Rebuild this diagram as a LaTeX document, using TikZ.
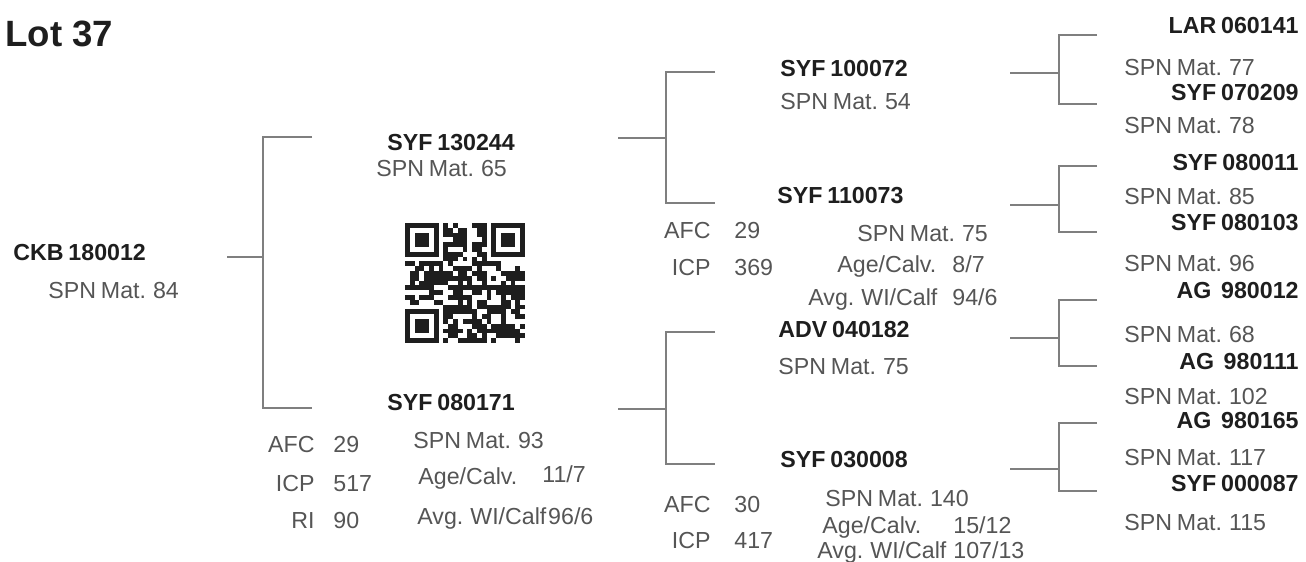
\documentclass[tikz,border=0pt]{standalone}
\usepackage{fontspec}
\setmainfont[WordSpace=0.75]{Liberation Sans}
\newfontfamily\lotfont{Liberation Sans}
\usetikzlibrary{positioning}

\definecolor{namecol}{HTML}{1E1E1E}
\definecolor{infocol}{HTML}{555555}
\definecolor{linkcol}{HTML}{7F7F7F}

\begin{document}
\begin{tikzpicture}[
% first : the style of the pedigree
    x=0.5pt, y=-0.5pt,
    title/.style={
        font=\lotfont\fontsize{18.3}{20}\selectfont\bfseries,
        text=namecol,
        inner sep=0pt,
        text height=13.1pt,
        text depth=0pt,
        anchor=west
    },
    sire/.style={
        font=\fontsize{11.6}{13}\selectfont\bfseries,
        text=namecol,
        inner sep=0pt,
        text height=8.3pt,
        text depth=0pt,
        anchor=west
    },
    info/.style={
        font=\fontsize{11.6}{13}\selectfont,
        text=infocol,
        inner sep=0pt,
        text height=8.3pt,
        text depth=0pt,
        anchor=west
    },
    link/.style={
        draw=linkcol,
        line width=1.2pt
    }
]
\useasboundingbox (0,0) rectangle (1306,562);

% title
\node[title] (lot) at (5,33) {Lot 37};

% calf
\node[sire] (ckb) at (13,252) {CKB 180012};
\node[info] (ckbspn) at (48,290) {SPN Mat. 84};

% sire
\node[sire] (syfA) at (387,142) {SYF 130244};
\node[info] (syfAspn) at (376,168) {SPN Mat. 65};

% dam
\node[sire] (syfB) at (387,402) {SYF 080171};
\node[info] (syfBspn) at (413,440) {SPN Mat. 93};
\node[info] (syfBage) at (418,476) {Age/Calv.};
\node[info] (syfBagev) at (542,474) {11/7};
\node[info] (syfBwt) at (417,516) {Avg. WI/Calf};
\node[info, right=0.5pt of syfBwt] (syfBwtv) {96/6};
\node[info, anchor=east] (afcB) at (315,444) {AFC};
\node[info, right=9pt of afcB] (afcBv) {29};
\node[info, anchor=east] (icpB) at (315,483) {ICP};
\node[info, right=9pt of icpB] (icpBv) {517};
\node[info, anchor=east] (riB) at (315,520) {RI};
\node[info, right=9pt of riB] (riBv) {90};

% grand parents
\node[sire] (syfC) at (780,68) {SYF 100072};
\node[info] (syfCspn) at (780,101) {SPN Mat. 54};

\node[sire] (syfD) at (777,195) {SYF 110073};
\node[info, anchor=east] (afcD) at (711,230) {AFC};
\node[info, right=11.5pt of afcD] (afcDv) {29};
\node[info, anchor=east] (icpD) at (711,267) {ICP};
\node[info, right=11.5pt of icpD] (icpDv) {369};
\node[info] (syfDspn) at (857,233) {SPN Mat. 75};
\node[info] (syfDage) at (837,264) {Age/Calv.};
\node[info] (syfDagev) at (952,264) {8/7};
\node[info] (syfDwt) at (808,297) {Avg. WI/Calf};
\node[info] (syfDwtv) at (952,297) {94/6};

\node[sire] (advE) at (778,329) {ADV 040182};
\node[info] (advEspn) at (778,366) {SPN Mat. 75};

\node[sire] (syfF) at (780,459) {SYF 030008};
\node[info, anchor=east] (afcF) at (711,504) {AFC};
\node[info, right=11.5pt of afcF] (afcFv) {30};
\node[info, anchor=east] (icpF) at (711,540) {ICP};
\node[info, right=11.5pt of icpF] (icpFv) {417};
\node[info] (syfFspn) at (825,498) {SPN Mat. 140};
\node[info] (syfFage) at (822,525) {Age/Calv.};
\node[info] (syfFagev) at (953,525) {15/12};
\node[info] (syfFwt) at (817,550) {Avg. WI/Calf};
\node[info] (syfFwtv) at (953,550) {107/13};

% great grand parents
\foreach \nm/\ny/\sp/\sy [count=\k] in {
    LAR 060141/25/77/67,
    SYF 070209/92/78/125,
    SYF 080011/162/85/196,
    SYF 080103/222/96/263,
    AG\ \ 980012/290/68/334,
    AG\ \ 980111/361/102/396,
    AG\ \ 980165/420/117/457,
    SYF 000087/483/115/522}
{
    \node[sire, anchor=east] (gg\k) at (1299,\ny) {\nm};
    \node[info] (gg\k spn) at (1124,\sy) {SPN Mat. \sp};
}

% links
\foreach \n/\xs/\xv/\xe/\ys/\yt/\yb in {
    0/227/263/312/257/137/408,
    1/618/666/715/138/72/203,
    2/618/666/715/409/332/464,
    3/1010/1059/1097/73/35/104,
    4/1010/1059/1097/205/166/232,
    5/1010/1059/1097/338/300/366,
    6/1010/1059/1097/469/423/491}
{
    \coordinate (stub\n) at (\xs,\ys);
    \coordinate (fork\n) at (\xv,\ys);
    \coordinate (top\n) at (\xe,\yt);
    \coordinate (bot\n) at (\xe,\yb);
    \draw[link] (stub\n) -- (fork\n);
    \draw[link] (top\n) -| (fork\n) |- (bot\n);
}

% qr code
\begin{scope}[shift={(405,223)}]
    \pgfmathsetseed{37}
    \foreach \i in {0,...,24}{
        \foreach \j in {0,...,24}{
            \pgfmathtruncatemacro{\finder}{(\i<8 && \j<8) || (\i>16 && \j<8) || (\i<8 && \j>16)}
            \pgfmathtruncatemacro{\on}{rnd<0.62}
            \ifnum\finder=0 \ifnum\on=1
                \fill[namecol] (\i*4.8,\j*4.8) rectangle ++(4.8,4.8);
            \fi\fi
        }
    }
    \foreach \fx/\fy in {0/0, 86.4/0, 0/86.4}{
        \fill[namecol] (\fx,\fy) rectangle ++(33.6,33.6);
        \fill[white] (\fx+4.8,\fy+4.8) rectangle ++(24,24);
        \fill[namecol] (\fx+9.6,\fy+9.6) rectangle ++(14.4,14.4);
    }
\end{scope}

\end{tikzpicture}
\end{document}
